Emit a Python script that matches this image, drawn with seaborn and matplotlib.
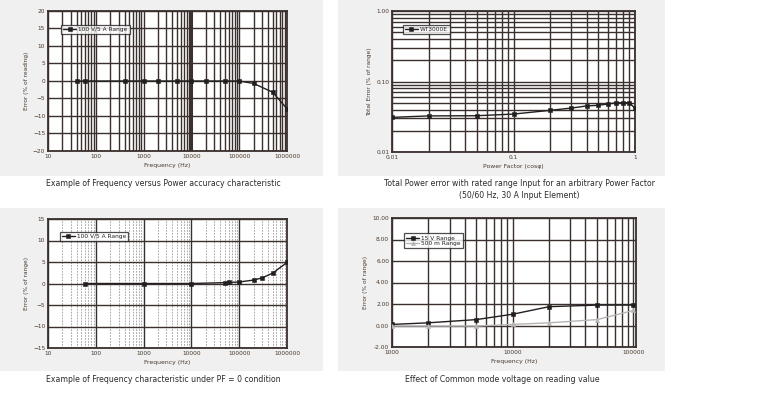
import matplotlib
matplotlib.use("Agg")
import matplotlib.pyplot as plt
from matplotlib.patches import Rectangle
from matplotlib.ticker import FixedLocator, FixedFormatter, NullFormatter, LogLocator
import seaborn as sns

# panel 1: frequency vs power accuracy
f1_freq = [40, 60, 400, 1000, 2000, 5000, 10000, 20000, 50000, 100000, 200000, 500000, 1000000]
f1_err = [0, 0, 0, 0, 0, 0, 0, 0, 0, 0, -0.7, -3.2, -7.9]

# panel 2: total power error vs power factor
pf = [0.01, 0.02, 0.05, 0.1, 0.2, 0.3, 0.4, 0.5, 0.6, 0.7, 0.8, 0.9, 1.0]
pf_err = [0.031, 0.0325, 0.0327, 0.0345, 0.039, 0.042, 0.045, 0.046, 0.048, 0.05, 0.05, 0.05, 0.0415]

# panel 3: frequency characteristic at PF = 0
f3_freq = [60, 1000, 10000, 50000, 60000, 100000, 200000, 300000, 500000, 1000000]
f3_err = [0, 0, 0, 0.2, 0.25, 0.35, 0.8, 1.3, 2.4, 4.9]

# panel 4: common mode voltage effect
f4_freq = [1000, 2000, 5000, 10000, 20000, 50000, 100000]
err_15v = [0.1, 0.25, 0.55, 1.05, 1.75, 1.9, 1.9]
err_500m = [-0.05, -0.05, -0.05, 0.1, 0.25, 0.55, 1.4]

W, H = 762, 393
INK = "#231f20"
GRID = "#3a302d"
TXT = "#4a3a2c"
PANEL = "#f0f0f0"
MS = 3.4

sns.set_style("white")
plt.rcParams["font.family"] = ["DejaVu Sans"]

fig = plt.figure(figsize=(W / 100, H / 100), dpi=100)
fig.patch.set_facecolor("white")


def px_axes(x0, y0, x1, y1):
    return fig.add_axes([x0 / W, 1 - y1 / H, (x1 - x0) / W, (y1 - y0) / H])


def panel(x0, y0, x1, y1):
    fig.patches.append(Rectangle((x0 / W, 1 - y1 / H), (x1 - x0) / W, (y1 - y0) / H,
                                 transform=fig.transFigure, facecolor=PANEL,
                                 edgecolor="none", zorder=-5))


def caption(x, y, s):
    fig.text(x / W, 1 - y / H, s, ha="center", va="center", fontsize=5.6, color="#2b2b2b")


def style(ax, xlabel, ylabel):
    ax.set_facecolor("white")
    for sp in ax.spines.values():
        sp.set_color(GRID)
        sp.set_linewidth(1.3)
        sp.set_visible(True)
    ax.tick_params(axis="both", which="both", length=0, labelsize=4.2, labelcolor=TXT, pad=2)
    ax.set_xlabel(xlabel, fontsize=4.4, color=TXT, labelpad=3)
    ax.set_ylabel(ylabel, fontsize=4.2, color=TXT, labelpad=3)


def legend(ax, loc):
    leg = ax.legend(loc="upper left", bbox_to_anchor=loc, fontsize=4.2, frameon=True,
                    fancybox=False, borderpad=0.35, handlelength=2.2, handletextpad=0.4,
                    labelspacing=0.05, borderaxespad=0)
    leg.get_frame().set_edgecolor(INK)
    leg.get_frame().set_linewidth(0.9)
    leg.get_frame().set_facecolor("white")
    for t in leg.get_texts():
        t.set_color(INK)


def freq_ticks(ax, lo, hi):
    majors = [10 ** k for k in range(len(str(lo)) - 1, len(str(hi)))]
    ax.xaxis.set_major_locator(FixedLocator(majors))
    ax.xaxis.set_major_formatter(FixedFormatter([str(m) for m in majors]))
    ax.xaxis.set_minor_locator(LogLocator(base=10, subs=range(2, 10)))
    ax.xaxis.set_minor_formatter(NullFormatter())


def series(ax, x, y, color, marker, label, ms=MS):
    sns.lineplot(x=x, y=y, ax=ax, color=color, lw=1.0, marker=marker, markersize=ms,
                 markeredgecolor=color, markeredgewidth=0.4, label=label, zorder=3)


panel(0, 0, 323, 176)
panel(338, 0, 665, 176)
panel(0, 208, 323, 371)
panel(338, 208, 665, 371)

# ---- panel 1
ax1 = px_axes(48, 11, 287, 151)
ax1.set_xscale("log")
freq_ticks(ax1, 10, 1000000)
ax1.set_xlim(10, 1000000)
ax1.set_ylim(-20, 20)
ax1.set_yticks(range(-20, 21, 5))
ax1.grid(True, which="both", axis="x", color=GRID, lw=1.0)
ax1.grid(True, which="major", axis="y", color=GRID, lw=1.0)
ax1.axvline(10000, color=GRID, lw=2.2, zorder=1)
series(ax1, f1_freq, f1_err, INK, "s", "100 V/5 A Range")
style(ax1, "Frequency (Hz)", "Error (% of reading)")
legend(ax1, (0.055, 0.9))
caption(163, 184, "Example of Frequency versus Power accuracy characteristic")

# ---- panel 2
ax2 = px_axes(392, 11, 635, 152)
ax2.set_xscale("log")
ax2.set_yscale("log")
ax2.set_xlim(0.01, 1)
ax2.set_ylim(0.01, 1)
ax2.xaxis.set_major_locator(FixedLocator([0.01, 0.1, 1]))
ax2.xaxis.set_major_formatter(FixedFormatter(["0.01", "0.1", "1"]))
ax2.yaxis.set_major_locator(FixedLocator([0.01, 0.1, 1]))
ax2.yaxis.set_major_formatter(FixedFormatter(["0.01", "0.10", "1.00"]))
for a in (ax2.xaxis, ax2.yaxis):
    a.set_minor_locator(LogLocator(base=10, subs=range(2, 10)))
    a.set_minor_formatter(NullFormatter())
ax2.grid(True, which="both", color=GRID, lw=1.0)
series(ax2, pf, pf_err, INK, "s", "WT3000E")
style(ax2, "Power Factor (cos\u03c6)", "Total Error (% of range)")
legend(ax2, (0.045, 0.9))
caption(519, 184, "Total Power error with rated range Input for an arbitrary Power Factor")
caption(519, 196, "(50/60 Hz, 30 A Input Element)")

# ---- panel 3
ax3 = px_axes(48, 219, 287, 348)
ax3.set_xscale("log")
freq_ticks(ax3, 10, 1000000)
ax3.set_xlim(10, 1000000)
ax3.set_ylim(-15, 15)
ax3.set_yticks(range(-15, 16, 5))
ax3.grid(True, which="major", color=GRID, lw=1.0)
ax3.grid(True, which="minor", axis="x", color="#9a9a9a", lw=0.6, ls=(0, (2, 1.5)))
series(ax3, f3_freq, f3_err, INK, "s", "100 V/5 A Range")
style(ax3, "Frequency (Hz)", "Error (% of range)")
legend(ax3, (0.05, 0.9))
caption(163, 379, "Example of Frequency characteristic under PF = 0 condition")

# ---- panel 4
ax4 = px_axes(392, 218, 636, 347)
ax4.set_xscale("log")
freq_ticks(ax4, 1000, 100000)
ax4.set_xlim(1000, 105000)
ax4.set_ylim(-2, 10)
ax4.set_yticks(range(-2, 11, 2))
ax4.yaxis.set_major_formatter(plt.FuncFormatter(lambda v, p: f"{v:.2f}"))
ax4.grid(True, which="both", axis="x", color=GRID, lw=1.0)
ax4.grid(True, which="major", axis="y", color=GRID, lw=1.0)
series(ax4, f4_freq, err_15v, INK, "s", "15 V Range")
series(ax4, f4_freq, err_500m, "#b5b5b5", "^", "500 m Range", ms=3.0)
style(ax4, "Frequency (Hz)", "Error (% of range)")
legend(ax4, (0.05, 0.88))
caption(502, 379, "Effect of Common mode voltage on reading value")

fig.savefig("out.png", dpi=100, facecolor="white")
